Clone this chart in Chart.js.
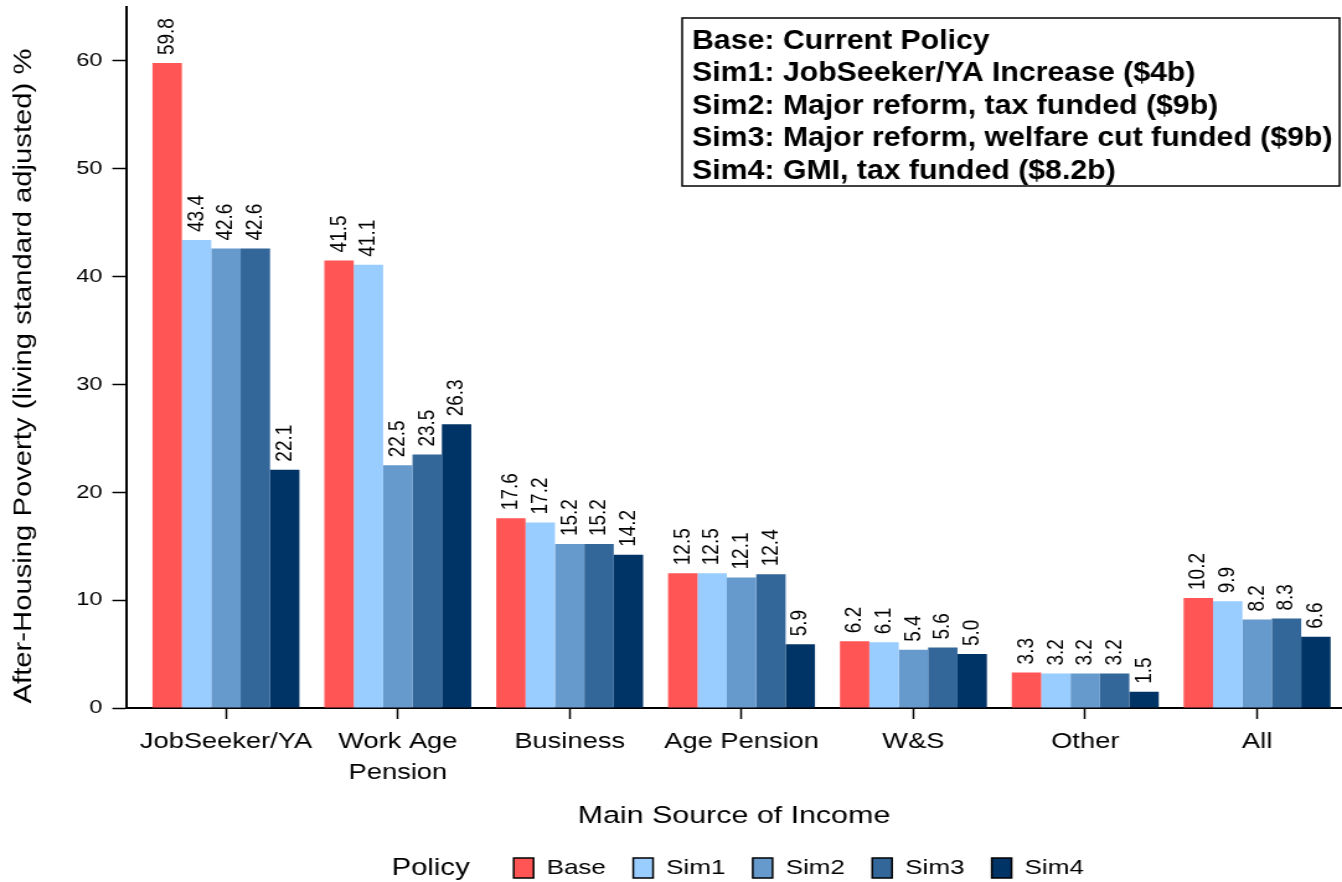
<!DOCTYPE html>
<html>
<head>
<meta charset="utf-8">
<script src="https://cdn.jsdelivr.net/npm/chart.js@4.4.1/dist/chart.umd.min.js"></script>
<style>
  html, body { margin: 0; padding: 0; background: #fff; overflow: hidden; }
  /* the original graph is stretched sideways, so draw narrow and widen it */
  #wrap { width: 1082px; height: 882px; transform: scaleX(1.2403); transform-origin: 0 0; }
</style>
</head>
<body>
<div id="wrap"><canvas id="grafico"></canvas></div>
<script>
// categorias y valores
const categorias = ['JobSeeker/YA', ['Work Age', 'Pension'], 'Business', 'Age Pension', 'W&S', 'Other', 'All'];
const series = ['Base', 'Sim1', 'Sim2', 'Sim3', 'Sim4'];
const base = [59.8, 41.5, 17.6, 12.5, 6.2, 3.3, 10.2];
const sim1 = [43.4, 41.1, 17.2, 12.5, 6.1, 3.2, 9.9];
const sim2 = [42.6, 22.5, 15.2, 12.1, 5.4, 3.2, 8.2];
const sim3 = [42.6, 23.5, 15.2, 12.4, 5.6, 3.2, 8.3];
const sim4 = [22.1, 26.3, 14.2, 5.9, 5.0, 1.5, 6.6];
const yTicks = [0, 10, 20, 30, 40, 50, 60];
const tituloY = 'After-Housing Poverty (living standard adjusted) %';
const tituloX = 'Main Source of Income';
const tituloLeyenda = 'Policy';
const notas = [
    'Base: Current Policy',
    'Sim1: JobSeeker/YA Increase ($4b)',
    'Sim2: Major reform, tax funded ($9b)',
    'Sim3: Major reform, welfare cut funded ($9b)',
    'Sim4: GMI, tax funded ($8.2b)'
];

const colores = ['#ff5555', '#99ccff', '#6699cc', '#336699', '#003366'];
const FUENTE = '"Liberation Sans", Arial, Helvetica, sans-serif';

Chart.defaults.font.family = FUENTE;
Chart.defaults.color = '#000';

// numeros encima de cada barra, girados
const etiquetasValor = {
    id: 'etiquetasValor',
    afterDatasetsDraw(chart) {
        const ctx = chart.ctx;
        ctx.save();
        ctx.font = '19px ' + FUENTE;
        ctx.fillStyle = '#000';
        ctx.textAlign = 'left';
        ctx.textBaseline = 'middle';
        chart.data.datasets.forEach((ds, i) => {
            chart.getDatasetMeta(i).data.forEach((bar, j) => {
                ctx.save();
                ctx.translate(bar.x, bar.y - 8);
                ctx.rotate(-Math.PI / 2);
                ctx.fillText(ds.data[j].toFixed(1), 0, 0);
                ctx.restore();
            });
        });
        ctx.restore();
    }
};

// cuadro de notas, titulo del eje Y y palabra "Policy" de la leyenda
const textosExtra = {
    id: 'textosExtra',
    afterDraw(chart) {
        const ctx = chart.ctx;
        const area = chart.chartArea;
        const x0 = 550, y0 = 18, x1 = area.right - 2, y1 = 186;
        ctx.save();
        ctx.fillStyle = '#fff';
        ctx.fillRect(x0, y0, x1 - x0, y1 - y0);
        ctx.strokeStyle = '#000';
        ctx.lineWidth = 1.5;
        ctx.strokeRect(x0, y0, x1 - x0, y1 - y0);
        ctx.fillStyle = '#000';
        ctx.font = 'bold 24.4px ' + FUENTE;
        ctx.textAlign = 'left';
        ctx.textBaseline = 'alphabetic';
        notas.forEach((t, i) => {
            ctx.save();
            ctx.translate(558, 48.5 + i * 32.5);
            ctx.scale(1, 1.15);
            ctx.fillText(t, 0, 0);
            ctx.restore();
        });

        // titulo Y: el original lo estira a lo largo
        ctx.save();
        ctx.translate(25, 376);
        ctx.rotate(-Math.PI / 2);
        ctx.scale(1.218, 0.858);
        ctx.font = '24px ' + FUENTE;
        ctx.textAlign = 'center';
        ctx.textBaseline = 'alphabetic';
        ctx.fillText(tituloY, 0, 0);
        ctx.restore();

        const cajas = chart.legend.legendHitBoxes;
        if (cajas && cajas.length > 1) {
            ctx.font = '23.6px ' + FUENTE;
            ctx.textAlign = 'right';
            ctx.textBaseline = 'middle';
            ctx.fillText(tituloLeyenda, cajas[1].left - 35.5, cajas[1].top + cajas[1].height / 2);
        }
        ctx.restore();
    }
};

const valores = [base, sim1, sim2, sim3, sim4];

new Chart(document.getElementById('grafico'), {
    type: 'bar',
    data: {
        labels: categorias.map((c, i) => i),
        datasets: series.map((nombre, i) => ({
            label: nombre,
            data: valores[i],
            backgroundColor: colores[i],
            borderWidth: 0,
            categoryPercentage: 0.855,
            barPercentage: 1
        }))
    },
    options: {
        responsive: true,
        maintainAspectRatio: false,
        animation: false,
        layout: { padding: { top: 7, left: 0, right: 0, bottom: -6.5 } },
        plugins: {
            tooltip: { enabled: false },
            legend: {
                position: 'bottom',
                fullSize: false,
                onClick: () => {},
                labels: {
                    font: { size: 21 },
                    boxWidth: 16,
                    boxHeight: 20,
                    padding: 22,
                    generateLabels: chart => {
                        const items = chart.data.datasets.map((ds, i) => ({
                            text: ds.label,
                            fillStyle: ds.backgroundColor,
                            strokeStyle: '#000',
                            fontColor: '#000',
                            lineWidth: 1.5,
                            hidden: false,
                            datasetIndex: i
                        }));
                        // hueco para la palabra "Policy", que se pinta aparte
                        return [{
                            text: tituloLeyenda,
                            fillStyle: 'rgba(0,0,0,0)',
                            strokeStyle: 'rgba(0,0,0,0)',
                            fontColor: 'rgba(0,0,0,0)',
                            lineWidth: 0,
                            hidden: false,
                            datasetIndex: -1
                        }].concat(items);
                    }
                }
            }
        },
        scales: {
            x: {
                type: 'linear',
                min: -0.5815,
                max: 6.494,
                offset: false,
                grid: { display: true, drawOnChartArea: false, offset: false, tickLength: 11, tickColor: '#000', tickWidth: 1.5 },
                border: { display: true, color: '#000', width: 2 },
                afterBuildTicks: s => { s.ticks = categorias.map((c, i) => ({ value: i })); },
                afterFit: s => { s.paddingLeft = 0; s.paddingRight = 0; s.height = 127.5; },
                ticks: {
                    autoSkip: false,
                    maxRotation: 0,
                    minRotation: 0,
                    padding: 7.5,
                    font: { size: 22, lineHeight: 1.4 },
                    callback: v => categorias[v]
                },
                title: {
                    display: true,
                    text: tituloX,
                    font: { size: 24.5 },
                    padding: { top: 10, bottom: 5 }
                }
            },
            y: {
                min: 0,
                max: 65,
                grid: { display: true, drawOnChartArea: false, tickLength: 11, tickColor: '#000', tickWidth: 1.5 },
                border: { display: true, color: '#000', width: 2 },
                afterBuildTicks: s => { s.ticks = yTicks.map(v => ({ value: v })); },
                afterFit: s => { s.width = 101.6; s.paddingTop = 0; s.paddingBottom = 0; },
                ticks: {
                    padding: 8,
                    font: { size: 19 }
                },
                title: { display: false }
            }
        }
    },
    plugins: [etiquetasValor, textosExtra]
});
</script>
</body>
</html>
